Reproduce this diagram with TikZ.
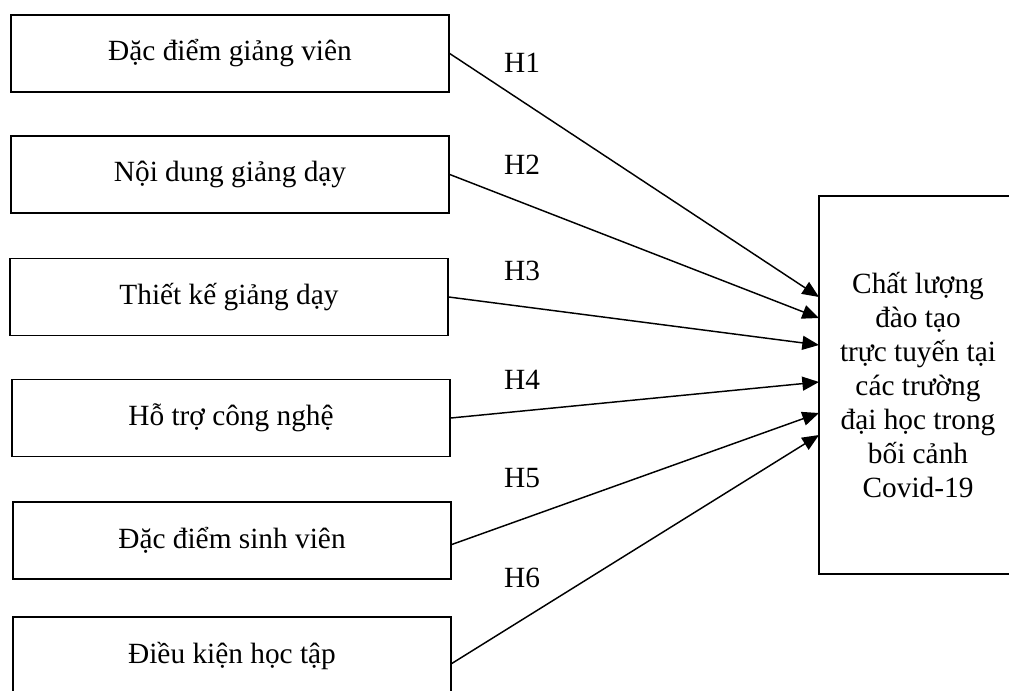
\documentclass[tikz,border=0pt]{standalone}
\usepackage{fontspec}
\setmainfont{Liberation Serif}
\usetikzlibrary{arrows.meta}
\begin{document}
\begin{tikzpicture}[x=.75pt, y=-.75pt,
    line width=1.1pt,
    factor/.style={
        draw,
        minimum width=328.5pt,
        minimum height=57.75pt,
        inner sep=0pt,
        font=\fontsize{22}{25.5}\selectfont},
    outcome/.style={
        draw,
        minimum width=148.5pt,
        minimum height=283.5pt,
        inner sep=0pt,
        align=center,
        font=\fontsize{22}{25.5}\selectfont},
    hyp/.style={
        inner sep=0pt,
        font=\fontsize{22}{25.5}\selectfont},
    link/.style={-{Triangle[length=12.5pt,width=10.5pt]}}]

    \useasboundingbox (0,0) rectangle (1009,690);
    \clip (0,0) rectangle (1009,690);

    \node[factor] (F1) at (230,53.5) {Đặc điểm giảng viên};
    \node[factor] (F2) at (230,174.5) {Nội dung giảng dạy};
    \node[factor] (F3) at (229,297) {Thiết kế giảng dạy};
    \node[factor] (F4) at (231,418) {Hỗ trợ công nghệ};
    \node[factor] (F5) at (232,540.5) {Đặc điểm sinh viên};
    \node[factor] (F6) at (232,655.5) {Điều kiện học tập};

    \node[outcome] (Q) at (918,385) {Chất lượng\\đào tạo\\trực tuyến tại\\các trường\\đại học trong\\bối cảnh\\Covid-19};

    \coordinate (T1) at (819,297);
    \coordinate (T2) at (819,318);
    \coordinate (T3) at (819,345);
    \coordinate (T4) at (819,382);
    \coordinate (T5) at (819,413);
    \coordinate (T6) at (819,435);

    \draw[link] (F1.east) -- (T1);
    \draw[link] (F2.east) -- (T2);
    \draw[link] (F3.east) -- (T3);
    \draw[link] (F4.east) -- (T4);
    \draw[link] ([yshift=-3pt]F5.east) -- (T5);
    \draw[link] ([yshift=-6pt]F6.east) -- (T6);

    \node[hyp] (H1) at (522,63) {H1};
    \node[hyp] (H2) at (522,165) {H2};
    \node[hyp] (H3) at (522,271) {H3};
    \node[hyp] (H4) at (522,380) {H4};
    \node[hyp] (H5) at (522,478) {H5};
    \node[hyp] (H6) at (522,578) {H6};
\end{tikzpicture}
\end{document}
